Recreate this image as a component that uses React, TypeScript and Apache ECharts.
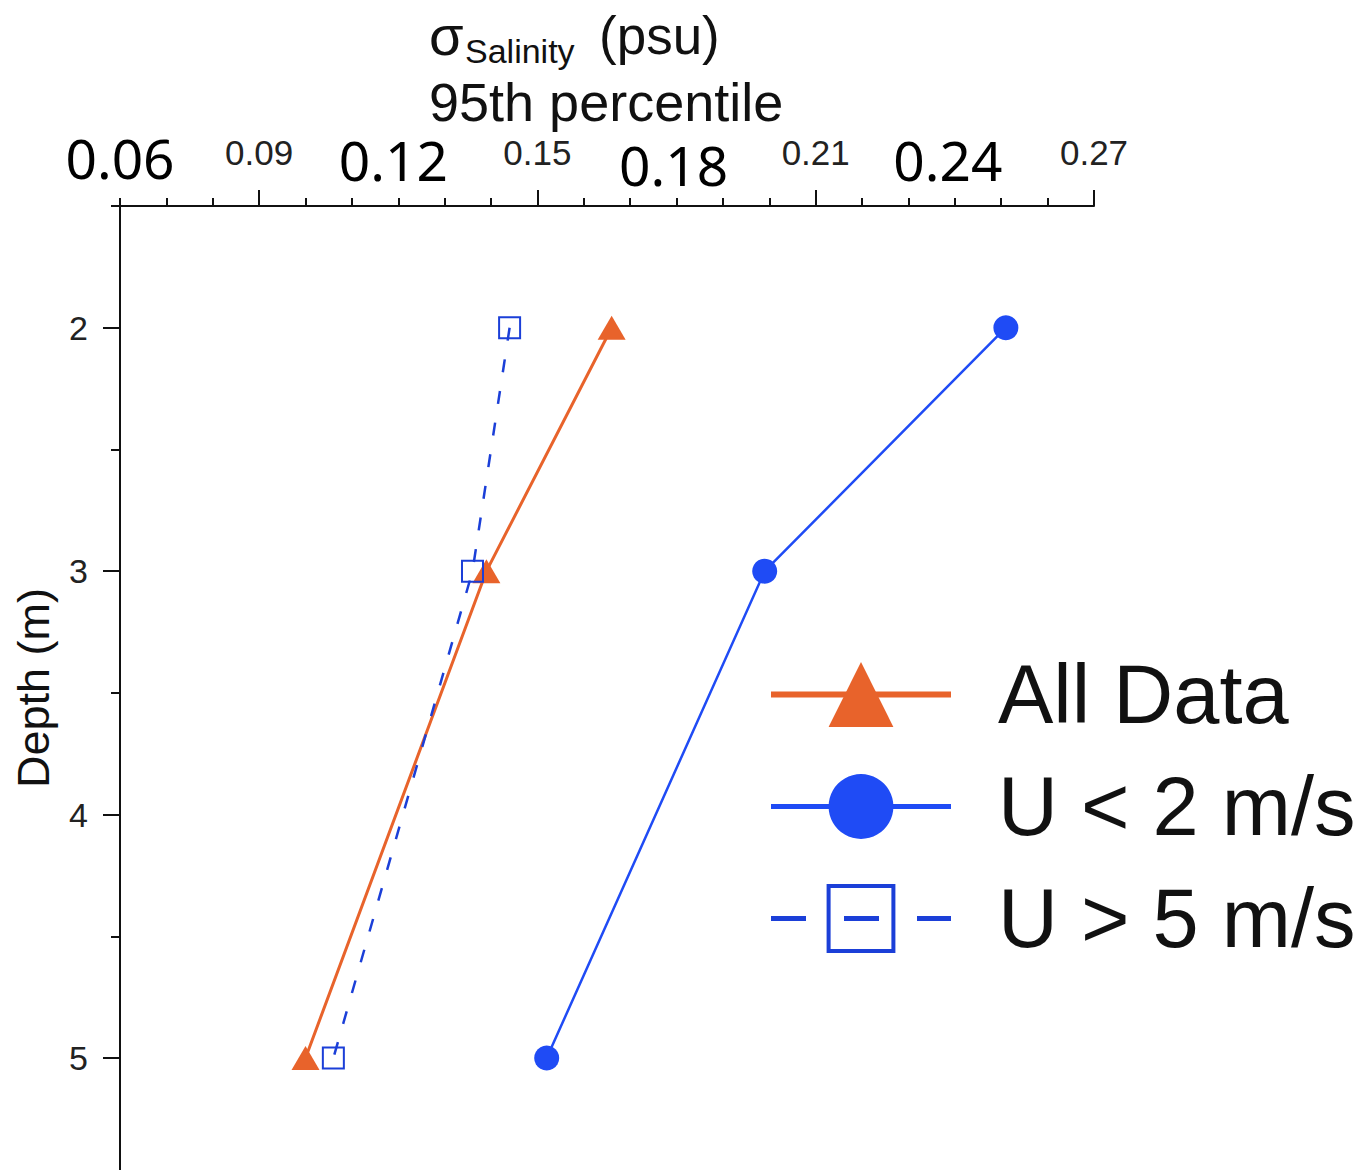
import React, { useEffect, useRef } from "react";
import * as echarts from "echarts";

// ---- data ----
const depths = [2, 3, 5];
const allData = [0.166, 0.139, 0.1];
const uLow = [0.251, 0.199, 0.152];
const uHigh = [0.144, 0.136, 0.106];

const seriesNames = ["All Data", "U < 2 m/s", "U > 5 m/s"];

// ---- axis ticks / labels ----
const xLabelValues = [0.06, 0.09, 0.12, 0.15, 0.18, 0.21, 0.24, 0.27];
const xLargeLabels = [0.06, 0.12, 0.24];
const xBoxedLabels = [0.18];
const xMajorTicks = [0.09, 0.15, 0.21, 0.27];
const xMinorTicks = [
  0.06, 0.07, 0.08, 0.1, 0.11, 0.12, 0.13, 0.14, 0.16, 0.17, 0.18, 0.19, 0.2,
  0.22, 0.23, 0.24, 0.25, 0.26,
];
const yMajorTicks = [2, 3, 4, 5];
const yMinorTicks = [1.5, 2.5, 3.5, 4.5];

const ORANGE = "#E8632B";
const BLUE = "#1F4BF5";
const BLUE2 = "#1B3FD8";
const SANS = "'Liberation Sans', Arial, Helvetica, sans-serif";
const ROUND = "'Noto Sans', 'Liberation Sans', sans-serif";

const pairs = (xs: number[]) => xs.map((x, i) => [x, depths[i]]);

export default function App() {
  const ref = useRef<HTMLDivElement>(null);
  useEffect(() => {
    if (!ref.current) return;
    const chart = echarts.init(ref.current, null, { renderer: "svg" });
    const near = (a: number, list: number[]) => list.some((b) => Math.abs(a - b) < 1e-6);
    chart.setOption({
      animation: false,
      backgroundColor: "#fff",
      grid: { left: 120, top: 206, right: 272, bottom: 0 },
      graphic: [
        { type: "text", x: 429, y: 35, style: { text: "σ", fontSize: 56, fontFamily: SANS, fill: "#111", align: "left", verticalAlign: "middle" } },
        { type: "text", x: 465, y: 51, style: { text: "Salinity", fontSize: 34, fontFamily: SANS, fill: "#111", align: "left", verticalAlign: "middle" } },
        { type: "text", x: 599, y: 35, style: { text: "(psu)", fontSize: 53, fontFamily: SANS, fill: "#111", align: "left", verticalAlign: "middle" } },
        { type: "text", x: 429, y: 102, style: { text: "95th percentile", fontSize: 54, fontFamily: SANS, fill: "#111", align: "left", verticalAlign: "middle" } },
      ],
      xAxis: [
        {
          type: "value",
          position: "top",
          min: 0.06,
          max: 0.27,
          splitLine: { show: false },
          axisLine: { show: true, onZero: false, lineStyle: { color: "#111", width: 2 } },
          axisTick: { show: true, customValues: xMajorTicks, length: 16, lineStyle: { color: "#111", width: 2 } },
          axisLabel: {
            show: true,
            customValues: xLabelValues,
            margin: 2,
            verticalAlign: "bottom",
            formatter: (v: number) => {
              const s = v.toFixed(2);
              if (near(v, xBoxedLabels)) return `{mid|${s}}`;
              if (near(v, [xLargeLabels[1]])) return `{big12|${s}}`;
              if (near(v, [xLargeLabels[2]])) return `{big24|${s}}`;
              if (near(v, xLargeLabels)) return `{big|${s}}`;
              return `{small|${s}}`;
            },
            rich: {
              big: { fontSize: 55, fontFamily: ROUND, color: "#000", padding: [0, 0, 19, 0] },
              big12: { fontSize: 55, fontFamily: ROUND, color: "#000", padding: [0, 10, 17, 0] },
              big24: { fontSize: 55, fontFamily: ROUND, color: "#000", padding: [0, 14, 17, 0] },
              mid: { fontSize: 55, fontFamily: ROUND, color: "#000", backgroundColor: "#fff", padding: [6, 24, 12, 18] },
              small: { fontSize: 35, fontFamily: SANS, color: "#222", padding: [0, 0, 34, 0] },
            },
          },
        },
        {
          type: "value",
          position: "top",
          min: 0.06,
          max: 0.27,
          splitLine: { show: false },
          axisLine: { show: false },
          axisTick: { show: true, customValues: xMinorTicks, length: 8, lineStyle: { color: "#111", width: 2 } },
          axisLabel: { show: false },
          z: 1,
        },
      ],
      yAxis: [
        {
          type: "value",
          position: "left",
          inverse: true,
          min: 1.5,
          max: 5.46,
          name: "Depth (m)",
          nameLocation: "middle",
          nameGap: 64,
          nameTextStyle: { fontSize: 45, fontFamily: SANS, color: "#111" },
          splitLine: { show: false },
          axisLine: { show: true, onZero: false, lineStyle: { color: "#111", width: 2 } },
          axisTick: { show: true, customValues: yMajorTicks, length: 17, lineStyle: { color: "#111", width: 2 } },
          axisLabel: { show: true, customValues: yMajorTicks, margin: 32, fontSize: 34, fontFamily: SANS, color: "#222" },
        },
        {
          type: "value",
          position: "left",
          offset: 0,
          inverse: true,
          min: 1.5,
          max: 5.46,
          splitLine: { show: false },
          axisLine: { show: false },
          axisTick: { show: true, customValues: yMinorTicks, length: 9, lineStyle: { color: "#111", width: 2 } },
          axisLabel: { show: false },
        },
      ],
      legend: {
        orient: "vertical",
        left: 768,
        top: 653,
        padding: 0,
        itemWidth: 180,
        itemHeight: 81,
        itemGap: 29,
        textStyle: { fontSize: 83, fontFamily: SANS, color: "#111", padding: [0, 0, 0, 42] },
        data: [
          { name: seriesNames[0], lineStyle: { width: 6 } },
          { name: seriesNames[1], lineStyle: { width: 5 } },
          { name: seriesNames[2], lineStyle: { width: 5, type: [35, 38] }, itemStyle: { borderWidth: 4 } },
        ],
      },
      series: [
        {
          name: seriesNames[0],
          type: "line",
          xAxisIndex: 0,
          yAxisIndex: 0,
          data: pairs(allData),
          symbol: "triangle",
          symbolSize: [28, 24],
          itemStyle: { color: ORANGE },
          lineStyle: { color: ORANGE, width: 3 },
          z: 2,
        },
        {
          name: seriesNames[1],
          type: "line",
          xAxisIndex: 0,
          yAxisIndex: 0,
          data: pairs(uLow),
          symbol: "circle",
          symbolSize: 25,
          itemStyle: { color: BLUE },
          lineStyle: { color: BLUE, width: 2.5 },
          z: 3,
        },
        {
          name: seriesNames[2],
          type: "line",
          xAxisIndex: 0,
          yAxisIndex: 0,
          data: pairs(uHigh),
          symbol: "rect",
          symbolSize: 21,
          itemStyle: { color: "rgba(255,255,255,0)", borderColor: BLUE2, borderWidth: 2 },
          lineStyle: { color: BLUE2, width: 2.5, type: [13, 19] },
          z: 4,
        },
      ],
    });
    return () => chart.dispose();
  }, []);
  return (
    <div
      ref={ref}
      style={{ position: "absolute", left: 0, top: 0, width: 1366, height: 1170 }}
    />
  );
}
